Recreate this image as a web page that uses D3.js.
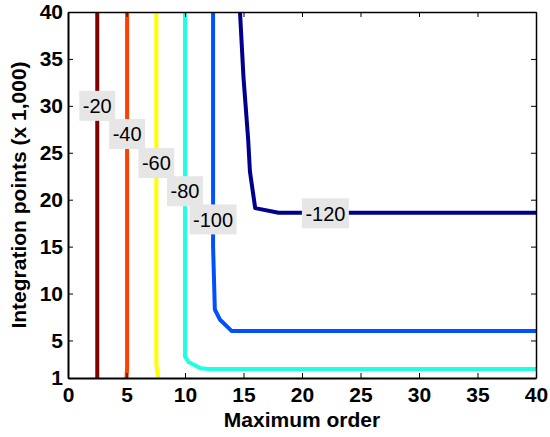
<!DOCTYPE html>
<html>
<head>
<meta charset="utf-8">
<script src="https://cdn.jsdelivr.net/npm/d3@7"></script>
<style>
  body { margin: 0; background: #fff; }
  text { font-family: Arial, "Liberation Sans", sans-serif; }
</style>
</head>
<body>
<svg id="chart" width="550" height="437"></svg>
<script>
const levels = [-20, -40, -60, -80, -100, -120];
const lineColors = ["#800000", "#ff4000", "#ffff00", "#20ffdf", "#0050ff", "#00008f"];

// contour paths, [maximum order, integration points (x 1,000)]
const contour20 = [[2.5, 40], [2.5, 1]];
const contour40 = [[5.05, 40], [5.05, 2], [5.0, 1]];
const contour60 = [[7.55, 40], [7.55, 2.5], [7.65, 1.5], [7.7, 1]];
const contour80 = [[10, 40], [10, 3.3], [10.3, 2.7], [11.3, 2.05], [12, 1.95], [40, 1.95]];
const contour100 = [[12.4, 40], [12.4, 15], [12.55, 8.3], [13, 7.2], [14, 6.0], [40, 6.0]];
const contour120 = [[14.7, 40], [15.0, 33], [15.4, 26.4], [15.55, 23], [16, 19.1], [18, 18.6], [40, 18.6]];
const contours = [contour20, contour40, contour60, contour80, contour100, contour120];

// inline label anchors on each contour
const labelAt = [[2.5, 30.0], [5.05, 27.0], [7.55, 23.9], [10, 20.9], [12.4, 17.9], [22.0, 18.55]];

const xTicks = [0, 5, 10, 15, 20, 25, 30, 35, 40];
const yTicks = [1, 5, 10, 15, 20, 25, 30, 35, 40];

const margin = { left: 68, right: 14, top: 12, bottom: 59 };
const width = 550, height = 437;

const svg = d3.select("#chart");
const x = d3.scaleLinear().domain([0, 40]).range([margin.left, width - margin.right]);
const y = d3.scaleLinear().domain([1, 40]).range([height - margin.bottom, margin.top]);

const line = d3.line().x((d) => x(d[0])).y((d) => y(d[1]));

const plot = svg.append("g");
plot.append("defs").append("clipPath").attr("id", "clip")
  .append("rect")
  .attr("x", x(0)).attr("y", y(40))
  .attr("width", x(40) - x(0)).attr("height", y(1) - y(40));

plot.append("g")
  .attr("clip-path", "url(#clip)")
  .selectAll("path")
  .data(contours)
  .join("path")
  .attr("d", line)
  .attr("fill", "none")
  .attr("stroke", (d, i) => lineColors[i])
  .attr("stroke-width", 4)
  .attr("stroke-linejoin", "round");

// labels with grey boxes
const labels = plot.append("g")
  .selectAll("g")
  .data(levels)
  .join("g")
  .attr("transform", (d, i) => `translate(${x(labelAt[i][0])},${y(labelAt[i][1])})`);

labels.append("text")
  .attr("text-anchor", "middle")
  .attr("dy", "0.36em")
  .attr("font-size", 20)
  .attr("fill", "#000")
  .text((d) => d)
  .each(function () {
    const b = this.getBBox();
    d3.select(this.parentNode).insert("rect", "text")
      .attr("x", b.x - 3.5).attr("y", -15)
      .attr("width", b.width + 7).attr("height", 30)
      .attr("fill", "#e6e6e6");
  });

// axes box with inward ticks
const axisFont = (g) => g.selectAll("text")
  .attr("font-size", 21).attr("font-weight", "bold")
  .attr("font-family", "Arial, 'Liberation Sans', sans-serif").attr("fill", "#000");

svg.append("g")
  .attr("transform", `translate(0,${y(1)})`)
  .call(d3.axisBottom(x).tickValues(xTicks).tickSizeInner(-5).tickSizeOuter(0).tickPadding(9))
  .call(axisFont)
  .call((g) => g.select(".domain").attr("stroke-width", 2));

svg.append("g")
  .attr("transform", `translate(${x(0)},0)`)
  .call(d3.axisLeft(y).tickValues(yTicks).tickSizeInner(-5).tickSizeOuter(0).tickPadding(5))
  .call(axisFont)
  .call((g) => g.select(".domain").attr("stroke-width", 2));

svg.append("g")
  .attr("transform", `translate(0,${y(40)})`)
  .call(d3.axisTop(x).tickValues(xTicks).tickSizeInner(-5).tickSizeOuter(0).tickFormat(""))
  .call((g) => g.select(".domain").attr("stroke-width", 1.5));

svg.append("g")
  .attr("transform", `translate(${x(40)},0)`)
  .call(d3.axisRight(y).tickValues(yTicks).tickSizeInner(-5).tickSizeOuter(0).tickFormat(""))
  .call((g) => g.select(".domain").attr("stroke-width", 1.5));

svg.append("text")
  .attr("x", (x(0) + x(40)) / 2)
  .attr("y", 427)
  .attr("text-anchor", "middle")
  .attr("font-size", 21)
  .attr("font-weight", "bold")
  .text("Maximum order");

svg.append("text")
  .attr("transform", `translate(26,${(y(1) + y(40)) / 2}) rotate(-90)`)
  .attr("text-anchor", "middle")
  .attr("font-size", 21)
  .attr("font-weight", "bold")
  .text("Integration points (x 1,000)");
</script>
</body>
</html>
